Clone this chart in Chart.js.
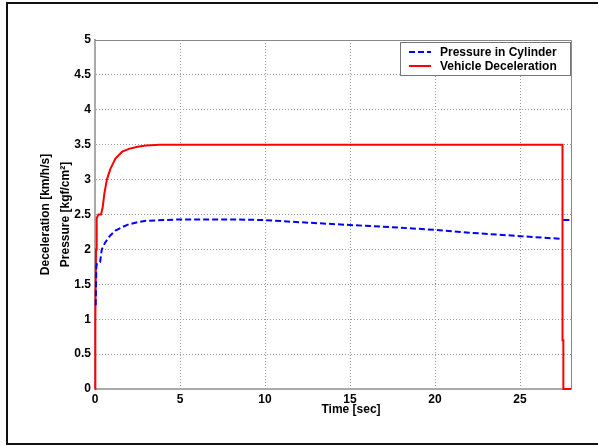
<!DOCTYPE html>
<html>
<head>
<meta charset="utf-8">
<script src="https://cdn.jsdelivr.net/npm/chart.js@4"></script>
<style>
html,body{margin:0;padding:0;background:#fff;}
canvas{display:block;}
</style>
</head>
<body>
<canvas id="c" width="598" height="446"></canvas>
<script>
// ---- data ----
const timeDecel = [0, 0.02, 0.06, 0.1, 0.2, 0.35, 0.45, 0.55, 0.7, 0.9, 1.2, 1.6, 2.0, 2.5, 3.0, 3.8, 10, 20, 27.5, 27.5, 27.55, 27.55, 28];
const decel     = [0, 1.0, 2.0, 2.45, 2.5, 2.5, 2.6, 2.8, 3.0, 3.15, 3.3, 3.4, 3.44, 3.47, 3.49, 3.5, 3.5, 3.5, 3.5, 0.7, 0.7, 0, 0];

const timePressure = [0.04, 0.08, 0.12, 0.3, 0.4, 0.6, 0.9, 1.2, 1.6, 2.0, 2.5, 3.0, 4.0, 5, 8, 10, 12, 15, 18, 20, 22, 25, 27.5, 27.52, 27.55, 28];
const pressure     = [1.2, 1.75, 1.8, 1.82, 2.0, 2.1, 2.2, 2.27, 2.32, 2.36, 2.39, 2.41, 2.42, 2.43, 2.43, 2.42, 2.39, 2.35, 2.31, 2.28, 2.24, 2.19, 2.15, null, 2.42, 2.42];

const xTicks = [0, 5, 10, 15, 20, 25];
const yTickLabels = ['0', '0.5', '1', '1.5', '2', '2.5', '3', '3.5', '4', '4.5', '5'];
const seriesNames = ['Pressure in Cylinder', 'Vehicle Deceleration'];
const xTitle = 'Time [sec]';
const yTitle = ['Deceleration [km/h/s]', 'Pressure [kgf/cm²]'];

const FONT = "'Liberation Sans', Arial, sans-serif";

function pts(xs, ys) { return xs.map((x, i) => ({x: x, y: ys[i]})); }

const framePlugin = {
  id: 'frame',
  beforeDraw(chart) {
    const ctx = chart.ctx;
    ctx.save();
    ctx.fillStyle = '#fff';
    ctx.fillRect(0, 0, chart.width, chart.height);
    ctx.strokeStyle = '#111';
    ctx.lineWidth = 2;
    ctx.strokeRect(7, 3, 600, 441);
    ctx.restore();
  },
  beforeDatasetsDraw(chart) {
    const a = chart.chartArea, ctx = chart.ctx;
    ctx.save();
    ctx.strokeStyle = '#888';
    ctx.lineWidth = 1;
    ctx.beginPath();
    ctx.moveTo(a.left, a.top + 0.5);
    ctx.lineTo(a.right + 0.5, a.top + 0.5);
    ctx.lineTo(a.right + 0.5, a.bottom);
    ctx.stroke();
    ctx.restore();
  },
  afterDraw(chart) {
    const ctx = chart.ctx;
    ctx.save();
    // x axis title
    ctx.font = 'bold 12px ' + FONT;
    ctx.fillStyle = '#000';
    ctx.textAlign = 'center';
    ctx.textBaseline = 'middle';
    ctx.fillText(xTitle, 351, 410);
    // legend box
    const bx = 400.5, by = 42.5, bw = 170, bh = 33;
    ctx.fillStyle = '#fff';
    ctx.fillRect(bx, by, bw, bh);
    ctx.strokeStyle = '#777';
    ctx.lineWidth = 1;
    ctx.strokeRect(bx, by, bw, bh);
    const ds = chart.data.datasets;
    ds.forEach((d, i) => {
      const y = by + 9.5 + i * 14;
      ctx.strokeStyle = d.borderColor;
      ctx.lineWidth = 2;
      ctx.setLineDash(d.borderDash || []);
      ctx.beginPath();
      ctx.moveTo(409, y);
      ctx.lineTo(431, y);
      ctx.stroke();
      ctx.setLineDash([]);
      ctx.fillStyle = '#000';
      ctx.textAlign = 'left';
      ctx.textBaseline = 'middle';
      ctx.font = 'bold 12px ' + FONT;
      ctx.fillText(d.label, 440, y + 0.5);
    });
    ctx.restore();
  }
};

new Chart(document.getElementById('c'), {
  type: 'line',
  data: {
    datasets: [
      {
        label: seriesNames[0],
        data: pts(timePressure, pressure),
        borderColor: '#0000ff',
        borderWidth: 2,
        borderDash: [6, 3],
        pointRadius: 0,
        fill: false,
        tension: 0,
        spanGaps: false,
        clip: 3
      },
      {
        label: seriesNames[1],
        data: pts(timeDecel, decel),
        borderColor: '#ff0000',
        borderWidth: 2,
        pointRadius: 0,
        fill: false,
        tension: 0,
        clip: 3
      }
    ]
  },
  options: {
    responsive: false,
    animation: false,
    events: [],
    layout: { padding: { left: 0, right: 27, top: 40, bottom: 0 } },
    plugins: { legend: { display: false }, tooltip: { enabled: false } },
    scales: {
      x: {
        type: 'linear',
        min: 0, max: 28,
        afterFit(s) { s.height = 57; },
        afterBuildTicks(s) { s.ticks = xTicks.map(v => ({value: v})); },
        ticks: {
          padding: 3,
          color: '#000',
          font: { family: FONT, size: 12, weight: 'bold' },
          callback: (v) => String(v)
        },
        grid: { color: '#999', lineWidth: 1, drawTicks: false },
        border: { display: true, color: '#aaa', width: 2, dash: [1, 2] },
        title: { display: false }
      },
      y: {
        min: 0, max: 5,
        afterFit(s) { s.width = 95; },
        afterBuildTicks(s) { s.ticks = yTickLabels.map(t => ({value: parseFloat(t)})); },
        ticks: {
          padding: 4,
          color: '#000',
          font: { family: FONT, size: 12, weight: 'bold' },
          callback: (v, i) => yTickLabels[i]
        },
        grid: { color: '#999', lineWidth: 1, drawTicks: false },
        border: { display: true, color: '#aaa', width: 2, dash: [1, 2] },
        title: {
          display: true,
          text: yTitle,
          color: '#000',
          font: { family: FONT, size: 12, weight: 'bold', lineHeight: 1.7 },
          padding: { top: 35, bottom: 0 }
        }
      }
    }
  },
  plugins: [framePlugin]
});
</script>
</body>
</html>
